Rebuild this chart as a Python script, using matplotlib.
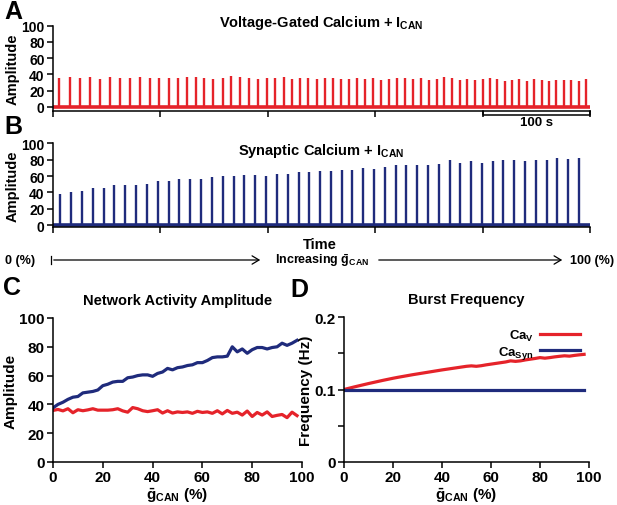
import matplotlib
matplotlib.use("Agg")
from matplotlib import pyplot as plt
from matplotlib import transforms

plt.rcParams['font.family'] = ['Liberation Sans', 'DejaVu Sans']
plt.rcParams['font.weight'] = 'bold'
plt.rcParams['axes.labelweight'] = 'bold'
plt.rcParams['mathtext.fontset'] = 'custom'
plt.rcParams['mathtext.rm'] = 'Liberation Sans:bold'
plt.rcParams['mathtext.it'] = 'Liberation Sans:bold'
plt.rcParams['mathtext.bf'] = 'Liberation Sans:bold'

RED = '#e5232a'
BLUE = '#1f2b7c'
W, H = 617, 506   # figure size in pixels

# Panel A: burst times (s) and amplitudes, voltage-gated calcium + ICAN
vg_times = [5.6, 15.8, 25.4, 34.7, 44.0, 53.3, 62.6, 71.9, 81.0, 90.0,
            98.9, 107.7, 116.4, 124.5, 132.9, 140.9, 149.3, 158.0, 166.0, 174.1,
            182.2, 190.6, 199.0, 206.7, 214.8, 222.5, 230.0, 237.7, 245.5, 253.3,
            260.4, 267.9, 275.6, 283.4, 290.8, 298.3, 305.4, 312.8, 320.3, 327.7,
            334.9, 342.3, 349.8, 357.2, 364.1, 371.2, 378.7, 385.8, 392.9, 400.1,
            406.9, 413.7, 420.6, 427.4, 434.2, 441.1, 448.2, 455.1, 461.8, 468.6,
            475.5, 482.3, 489.5, 496.3]
vg_amps = [36.0, 36.7, 35.0, 37.0, 34.0, 36.7, 35.5, 36.0, 36.7, 36.0,
           36.0, 36.0, 36.0, 36.7, 36.7, 36.0, 34.0, 35.5, 37.5, 36.7,
           36.0, 34.7, 35.0, 35.0, 36.3, 34.7, 35.9, 35.9, 33.9, 35.9,
           35.9, 33.9, 33.9, 35.5, 33.9, 35.5, 33.1, 34.7, 35.5, 35.5,
           33.9, 35.5, 33.1, 33.9, 36.3, 35.9, 33.1, 34.7, 33.1, 34.3,
           35.5, 34.7, 31.4, 33.1, 34.7, 32.2, 34.7, 33.1, 31.4, 33.1,
           33.1, 33.1, 31.4, 34.7]

# Panel B: burst times (s) and amplitudes, synaptic calcium + ICAN
syn_times = [6.5, 16.8, 26.7, 36.9, 47.2, 57.1, 67.3, 77.3, 87.5, 97.5,
             107.7, 117.6, 127.9, 137.8, 148.0, 158.0, 168.2, 178.1, 188.4, 198.3,
             208.3, 218.5, 228.8, 238.7, 248.6, 258.6, 268.8, 278.7, 288.6, 298.9,
             308.9, 319.1, 329.0, 338.9, 349.2, 359.1, 369.3, 379.2, 389.2, 399.4,
             409.3, 419.2, 429.4, 439.3, 449.6, 459.5, 469.3, 479.6, 489.8]
syn_amps = [37.6, 40.9, 42.0, 45.0, 45.0, 48.5, 48.5, 49.0, 50.0, 53.8,
            54.0, 56.0, 56.0, 56.0, 59.0, 59.5, 60.0, 61.0, 61.0, 60.0,
            62.0, 63.0, 65.5, 64.4, 65.6, 66.0, 67.6, 67.6, 69.6, 68.8,
            70.9, 73.3, 73.3, 73.3, 73.7, 75.0, 80.0, 76.0, 78.5, 75.3,
            78.0, 79.8, 79.8, 78.5, 79.8, 80.0, 82.6, 81.4, 82.2]

# Panels C and D: summary vs gCAN (%)
gcan = [0, 2, 4, 6, 8, 10, 12, 14, 16, 18, 20, 22, 24, 26, 28, 30, 32, 34, 36, 38,
        40, 42, 44, 46, 48, 50, 52, 54, 56, 58, 60, 62, 64, 66, 68, 70, 72, 74, 76, 78,
        80, 82, 84, 86, 88, 90, 92, 94, 96, 98]
amp_v = [35.8, 36.5, 35.5, 37.0, 34.2, 36.3, 35.6, 36.2, 37.0, 36.0,
         36.0, 36.0, 36.3, 37.0, 35.5, 34.6, 37.8, 37.0, 35.6, 35.0,
         35.6, 36.3, 34.0, 35.6, 34.0, 34.8, 34.4, 34.8, 33.8, 35.2,
         34.4, 34.8, 33.8, 35.6, 33.4, 35.8, 33.8, 34.6, 32.6, 35.4,
         31.6, 34.4, 32.6, 34.8, 31.6, 32.4, 33.0, 30.8, 34.6, 32.2]
amp_syn = [37.6, 40.0, 41.5, 43.5, 45.0, 45.5, 48.0, 48.5, 49.0, 50.0,
           53.0, 54.0, 55.5, 56.0, 56.0, 58.5, 59.0, 60.0, 60.5, 60.5,
           59.5, 61.5, 62.5, 65.0, 64.0, 65.5, 66.0, 67.0, 67.5, 69.0,
           69.0, 70.5, 72.5, 73.0, 73.0, 73.5, 80.0, 76.5, 78.5, 75.5,
           78.0, 79.5, 79.5, 78.5, 79.5, 80.0, 82.5, 81.0, 82.5, 84.5]
freq_v = [0.1000, 0.1017, 0.1034, 0.1050, 0.1066, 0.1082, 0.1097, 0.1112, 0.1127, 0.1141,
          0.1155, 0.1168, 0.1180, 0.1192, 0.1204, 0.1215, 0.1226, 0.1237, 0.1248, 0.1259,
          0.1270, 0.1280, 0.1290, 0.1300, 0.1310, 0.1320, 0.1326, 0.1320, 0.1328, 0.1340,
          0.1350, 0.1360, 0.1370, 0.1380, 0.1395, 0.1388, 0.1395, 0.1408, 0.1418, 0.1428,
          0.1440, 0.1432, 0.1440, 0.1450, 0.1458, 0.1465, 0.1460, 0.1470, 0.1478, 0.1485]
freq_syn = [0.1] * 50   # flat at 0.1 Hz


def fy(py):
    return 1 - py / H


def ax_at(left, top, right, bottom):
    # axes box given in pixel coordinates of the figure (from the top)
    return fig.add_axes([left / W, fy(bottom), (right - left) / W, (bottom - top) / H])


def style(ax, size=10):
    for s in ['top', 'right']:
        ax.spines[s].set_visible(False)
    for s in ['left', 'bottom']:
        ax.spines[s].set_linewidth(1.1)
    ax.tick_params(direction='out', length=4, width=1.1, labelsize=size, pad=2)


fig = plt.figure(figsize=(W / 100, H / 100), dpi=100)

# ---- A
axA = ax_at(53, 26.7, 590, 111.5)
axA.vlines(vg_times, 0, vg_amps, color=RED, lw=1.7)
axA.axhline(0, color=RED, lw=2.6)
axA.set_xlim(0, 500)
axA.set_ylim(-4.5, 100)
axA.set_yticks([0, 20, 40, 60, 80, 100])
axA.set_xticks([0, 100, 200, 300, 400, 500])
axA.set_xticklabels([])
axA.set_ylabel('Amplitude', fontsize=10.5, labelpad=1)
style(axA)
axA.text(0.5, 1.0, r'Voltage-Gated Calcium + $I_{CAN}$', transform=axA.transAxes,
         ha='center', va='baseline', fontsize=10.5)
tr = transforms.blended_transform_factory(axA.transData, axA.transAxes)
axA.plot([400, 400, 500, 500], [0.0, -0.05, -0.05, 0.0], color='k', lw=1.1,
         transform=tr, clip_on=False)
axA.text(450, -0.14, '100 s', transform=tr, ha='center', va='center', fontsize=9.5)

# ---- B
axB = ax_at(53, 144.3, 590, 227.7)
axB.vlines(syn_times, 0, syn_amps, color=BLUE, lw=1.7)
axB.axhline(0, color=BLUE, lw=2.6)
axB.set_xlim(0, 500)
axB.set_ylim(-2, 100)
axB.set_yticks([0, 20, 40, 60, 80, 100])
axB.set_xticks([0, 100, 200, 300, 400, 500])
axB.set_xticklabels([])
axB.set_ylabel('Amplitude', fontsize=10.5, labelpad=1)
style(axB)
axB.text(0.5, 0.87, r'Synaptic Calcium + $I_{CAN}$', transform=axB.transAxes,
         ha='center', va='baseline', fontsize=10.5)

# time / gCAN arrows
fig.text(320 / W, fy(245), 'Time', ha='center', va='center', fontsize=10.5)
fig.text(5 / W, fy(261), '0 (%)', ha='left', va='center', fontsize=9)
fig.text(275 / W, fy(261), r'Increasing $\bar{g}_{CAN}$', ha='left', va='center',
         fontsize=9)
fig.text(614 / W, fy(261), '100 (%)', ha='right', va='center', fontsize=9)
fig.add_artist(plt.Line2D([51 / W, 51 / W], [fy(257), fy(265)], color='k', lw=0.9))
fig.patches.append(matplotlib.patches.FancyArrowPatch(
    (51 / W, fy(261)), (263 / W, fy(261)), transform=fig.transFigure,
    arrowstyle='->,head_length=5,head_width=3', color='k', lw=0.9))
fig.patches.append(matplotlib.patches.FancyArrowPatch(
    (376 / W, fy(261)), (565 / W, fy(261)), transform=fig.transFigure,
    arrowstyle='->,head_length=5,head_width=3', color='k', lw=0.9))

# ---- C
axC = ax_at(53, 319, 302, 463)
axC.plot(gcan, amp_v, color=RED, lw=2.3)
axC.plot(gcan, amp_syn, color=BLUE, lw=2.3)
axC.set_xlim(0, 100)
axC.set_ylim(0, 100)
axC.set_xticks([0, 20, 40, 60, 80, 100])
axC.set_yticks([0, 20, 40, 60, 80, 100])
axC.set_ylabel('Amplitude', fontsize=11, labelpad=1)
axC.set_xlabel(r'$\bar{g}_{CAN}$ (%)', fontsize=11, labelpad=1)
axC.set_title('Network Activity Amplitude', fontsize=10.5, fontweight='bold', pad=10)
style(axC, 11)

# ---- D
axD = ax_at(344, 318, 589, 463)
axD.plot(gcan, freq_v, color=RED, lw=2.3, label=r'$Ca_{V}$')
axD.plot(gcan, freq_syn, color=BLUE, lw=2.3, label=r'$Ca_{Syn}$')
axD.set_xlim(0, 100)
axD.set_ylim(0, 0.2)
axD.set_xticks([0, 20, 40, 60, 80, 100])
axD.set_yticks([0, 0.05, 0.1, 0.15, 0.2])
axD.set_yticklabels(['0', '', '0.1', '', '0.2'])
axD.set_ylabel('Frequency (Hz)', fontsize=11, labelpad=1)
axD.set_xlabel(r'$\bar{g}_{CAN}$ (%)', fontsize=11, labelpad=1)
axD.set_title('Burst Frequency', fontsize=10.5, fontweight='bold', pad=10)
style(axD, 11)
axD.legend(loc='upper right', bbox_to_anchor=(0.995, 0.98), frameon=False,
           markerfirst=False, fontsize=9.5, handlelength=3.0, handletextpad=0.5,
           labelspacing=0.05, borderpad=0.1)

# panel letters
for letter, px, py in [('A', 4, 0), ('B', 4, 115), ('C', 3, 276), ('D', 290, 278)]:
    fig.text(px / W, fy(py), letter, ha='left', va='top', fontsize=18, fontweight='bold')

fig.savefig('out.png', dpi=100)
